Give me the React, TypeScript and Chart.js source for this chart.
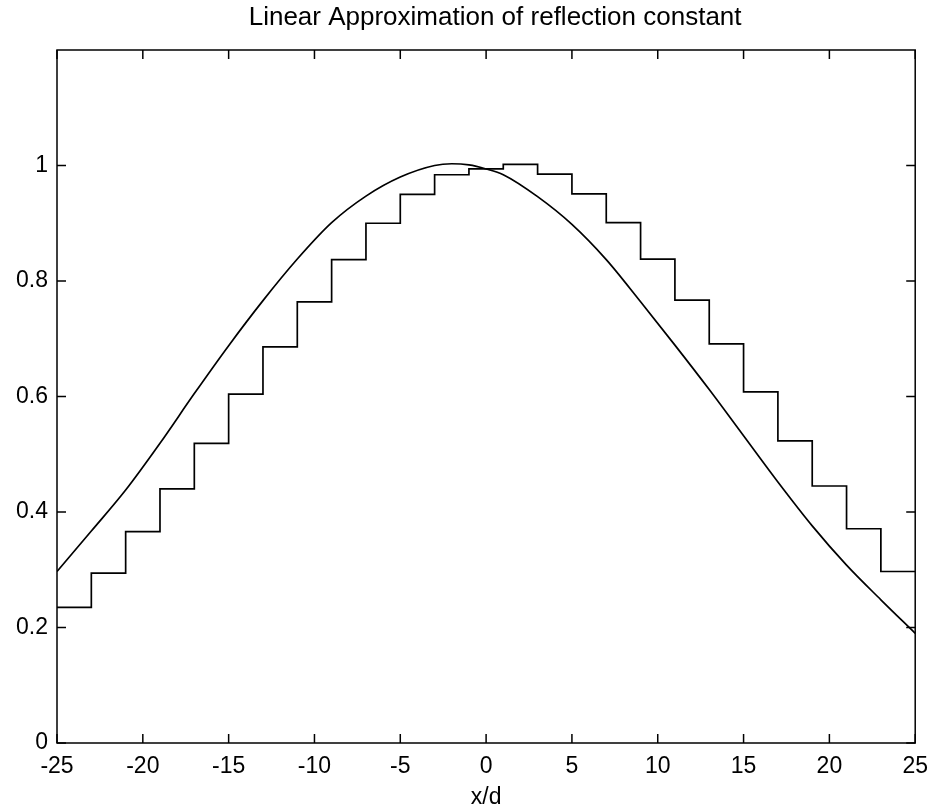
import React, { useEffect, useRef } from 'react';
import { Chart, registerables } from 'chart.js';

Chart.register(...registerables);

const TITLE = 'Linear Approximation of reflection constant';
const X_LABEL = 'x/d';
const xTicks = [-25, -20, -15, -10, -5, 0, 5, 10, 15, 20, 25];
const yTicks = [0, 0.2, 0.4, 0.6, 0.8, 1];
const xMin = -25;
const xMax = 25;
const yMin = 0;
const yMax = 1.2;

// staircase approximation: value held from each edge to the next
const stepEdges = [-25, -23, -21, -19, -17, -15, -13, -11, -9, -7, -5, -3, -1, 1, 3, 5, 7, 9, 11, 13, 15, 17, 19, 21, 23, 25];
const stepValues = [0.235, 0.294, 0.366, 0.44, 0.519, 0.604, 0.686, 0.764, 0.837, 0.9, 0.95, 0.984, 0.994, 1.002, 0.985, 0.951, 0.901, 0.838, 0.767, 0.691, 0.608, 0.523, 0.445, 0.371, 0.297, 0.297];

// smooth reflection constant curve
const curveX = [-25, -23, -21, -19, -17, -15, -13, -11, -9, -7, -5, -3, -2, -1, 0, 1, 3, 5, 7, 9, 11, 13, 15, 17, 19, 21, 23, 25];
const curveY = [0.297, 0.367, 0.438, 0.519, 0.605, 0.688, 0.766, 0.838, 0.901, 0.947, 0.98, 1.0, 1.003, 1.001, 0.994, 0.984, 0.946, 0.898, 0.837, 0.764, 0.689, 0.612, 0.532, 0.452, 0.376, 0.308, 0.248, 0.19];

const FONT = '"Liberation Sans", Arial, Helvetica, sans-serif';

const framePlugin = {
  id: 'matlabFrame',
  afterDatasetsDraw(chart: any) {
    const { ctx, chartArea, scales } = chart;
    const { left, right, top, bottom } = chartArea;
    const xs = scales.x;
    const ys = scales.y;
    const L = 9;
    ctx.save();
    ctx.strokeStyle = '#000';
    ctx.lineWidth = 1.5;
    ctx.strokeRect(left, top, right - left, bottom - top);
    ctx.beginPath();
    xs.ticks.forEach((t: any) => {
      const px = xs.getPixelForValue(t.value);
      ctx.moveTo(px, bottom);
      ctx.lineTo(px, bottom - L);
      ctx.moveTo(px, top);
      ctx.lineTo(px, top + L);
    });
    ys.ticks.forEach((t: any) => {
      const py = ys.getPixelForValue(t.value);
      ctx.moveTo(left, py);
      ctx.lineTo(left + L, py);
      ctx.moveTo(right, py);
      ctx.lineTo(right - L, py);
    });
    ctx.stroke();
    ctx.fillStyle = '#000';
    ctx.font = `26px ${FONT}`;
    ctx.textAlign = 'center';
    ctx.textBaseline = 'middle';
    ctx.fillText(TITLE, (left + right) / 2 + 9, 18);
    ctx.restore();
  },
};

export default function App() {
  const canvasRef = useRef<HTMLCanvasElement | null>(null);

  useEffect(() => {
    if (!canvasRef.current) return;
    const chart = new Chart(canvasRef.current, {
      type: 'line',
      data: {
        datasets: [
          {
            label: 'steps',
            data: stepEdges.map((x, i) => ({ x, y: stepValues[i] })),
            stepped: 'before',
            borderColor: '#000',
            borderWidth: 1.7,
            pointRadius: 0,
            fill: false,
          },
          {
            label: 'curve',
            data: curveX.map((x, i) => ({ x, y: curveY[i] })),
            borderColor: '#000',
            borderWidth: 1.7,
            pointRadius: 0,
            cubicInterpolationMode: 'monotone',
            fill: false,
          },
        ],
      },
      options: {
        responsive: false,
        animation: false,
        layout: { padding: { top: 50, left: 0, right: 19, bottom: 0 } },
        plugins: {
          legend: { display: false },
          title: { display: false },
          tooltip: { enabled: false },
        },
        scales: {
          x: {
            type: 'linear',
            min: xMin,
            max: xMax,
            afterBuildTicks: (s: any) => {
              s.ticks = xTicks.map((v) => ({ value: v }));
            },
            afterFit: (s: any) => {
              s.height = 68;
            },
            grid: { display: false, drawTicks: false },
            border: { display: false },
            ticks: {
              padding: 10,
              color: '#000',
              font: { family: FONT, size: 23 },
              maxRotation: 0,
              autoSkip: false,
              callback: (v: any) => String(v),
            },
            title: {
              display: true,
              text: X_LABEL,
              color: '#000',
              font: { family: FONT, size: 23 },
              padding: { top: 0, bottom: 0 },
            },
          },
          y: {
            type: 'linear',
            min: yMin,
            max: yMax,
            afterBuildTicks: (s: any) => {
              s.ticks = yTicks.map((v) => ({ value: v }));
            },
            afterFit: (s: any) => {
              s.width = 57;
            },
            grid: { display: false, drawTicks: false },
            border: { display: false },
            ticks: {
              padding: 9,
              color: '#000',
              font: { family: FONT, size: 23 },
              autoSkip: false,
              callback: (v: any) => String(Math.round(v * 10) / 10),
            },
          },
        },
      },
      plugins: [framePlugin],
    });
    return () => chart.destroy();
  }, []);

  return (
    <div style={{ position: 'absolute', left: 0, top: 0, width: 938, height: 811, background: '#fff' }}>
      <canvas ref={canvasRef} width={938} height={811} style={{ display: 'block' }} />
    </div>
  );
}
